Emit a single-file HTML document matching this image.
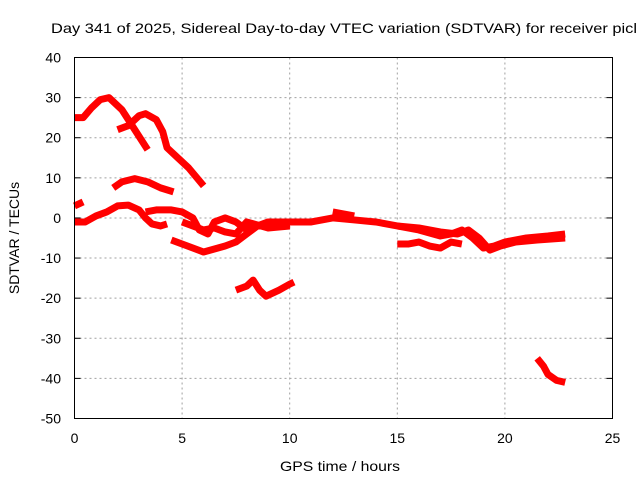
<!DOCTYPE html>
<html><head><meta charset="utf-8"><style>
html,body{margin:0;padding:0;background:#fff;width:640px;height:480px;overflow:hidden}
text{font-family:"Liberation Sans",sans-serif;font-size:14px;fill:#000}
</style></head><body>
<svg id="chart" width="640" height="480" xmlns="http://www.w3.org/2000/svg">
<text x="51" y="33" textLength="586" lengthAdjust="spacingAndGlyphs">Day 341 of 2025, Sidereal Day-to-day VTEC variation (SDTVAR) for receiver picl</text>
<g id="grid"></g>
<g id="ticks"></g>
<g id="series"></g>
<rect x="74.5" y="57.5" width="538" height="361" fill="none" stroke="#000" stroke-width="1"/>
<text x="280" y="471" textLength="120" lengthAdjust="spacingAndGlyphs">GPS time / hours</text>
<text transform="translate(19,238) rotate(-90)" text-anchor="middle">SDTVAR / TECUs</text>
</svg>
<script>
const xTicks=[0,5,10,15,20,25];
const yTicks=[40,30,20,10,0,-10,-20,-30,-40,-50];
const trace1=[[0,25],[0.4,25],[0.8,27.5],[1.2,29.5],[1.6,30],[2.2,27],[2.8,22],[3.4,17]];
const trace2=[[2,22],[2.5,23],[3,25.5],[3.3,26],[3.8,24.5],[4.1,21.5],[4.3,17.5],[4.8,15],[5.3,12.5],[6,8]];
const trace3=[[1.8,7.5],[2.2,9],[2.8,9.8],[3.4,9],[4,7.5],[4.6,6.5]];
const trace4=[[0,3],[0.4,4]];
const trace5=[[0,-1],[0.5,-1],[1,0.5],[1.5,1.5],[2,3],[2.5,3.2],[3,2],[3.3,0],[3.6,-1.5],[4,-2],[4.3,-1.5]];
const trace6=[[3.3,1.5],[3.8,2],[4.5,2],[5,1.5],[5.5,0],[5.8,-3],[6.2,-4],[6.5,-1],[7,0],[7.5,-1],[8,-3],[8.5,-2],[9,-1],[10,-1],[11,-1],[12,0],[13,-0.5],[14,-1],[15,-2],[16,-3],[17,-4.5],[17.5,-4],[18,-3],[18.5,-5],[19,-7.5],[19.5,-7],[20,-6],[21,-5],[22,-4.5],[22.8,-4]];
const trace7=[[15,-2],[16,-2.5],[17,-3.5],[17.8,-4],[18.3,-3],[18.8,-5],[19.3,-8],[19.8,-7],[20.5,-6],[21.5,-5.5],[22.8,-5]];
const trace8=[[4.5,-5.5],[5,-6.5],[5.5,-7.5],[6,-8.5],[7,-7],[7.5,-6],[8,-4],[8.5,-2],[9.5,-2],[10,-1.5]];
const trace9=[[5,-1],[5.5,-2],[6,-3],[6.5,-2.5],[7,-3.5],[7.5,-4],[8,-1],[9,-2.5],[10,-2]];
const trace10=[[15,-6.5],[15.5,-6.5],[16,-6],[16.5,-7],[17,-7.5],[17.5,-6],[18,-6.5]];
const trace11=[[12,1.5],[12.5,1],[13,0.5]];
const trace12=[[7.5,-18],[8,-17],[8.3,-15.5],[8.6,-18],[8.9,-19.5],[9.5,-18],[10,-16.5],[10.2,-16]];
const trace13=[[21.5,-35],[21.8,-37],[22,-39],[22.4,-40.5],[22.8,-41]];
const traces=[trace1,trace2,trace3,trace4,trace5,trace6,trace7,trace8,trace9,trace10,trace11,trace12,trace13];

const X0=74.5,X1=612.5,Y0=418.5,Y1=57.5;
const xs=h=>X0+(h-0)/(25-0)*(X1-X0);
const ys=v=>Y0-(v+50)/90*(Y0-Y1);
const NS="http://www.w3.org/2000/svg";
const grid=document.getElementById('grid'),ticks=document.getElementById('ticks'),series=document.getElementById('series');
function mk(t,a,p){const e=document.createElementNS(NS,t);for(const k in a)e.setAttribute(k,a[k]);p.appendChild(e);return e;}
xTicks.forEach(t=>{
  const x=xs(t);
  if(t>0&&t<25){const g=mk('line',{x1:x,x2:x,y1:Y1,y2:Y0,stroke:'#a0a0a0','stroke-dasharray':'2,3'},grid);
  
  }
  const l=mk('text',{x:x,y:443,'text-anchor':'middle'},ticks);l.textContent=t;
  
  
});
yTicks.forEach(t=>{
  const y=ys(t);
  if(t>-50&&t<40){const g=mk('line',{x1:X0,x2:X1,y1:y,y2:y,stroke:'#a0a0a0','stroke-dasharray':'2,3'},grid);
  
  }
  mk('line',{x1:X0,x2:X0+6,y1:y,y2:y,stroke:'#000'},ticks);
  mk('line',{x1:X1,x2:X1-6,y1:y,y2:y,stroke:'#000'},ticks);
  const l=mk('text',{x:61,y:y+5,'text-anchor':'end'},ticks);l.textContent=t;
  
  
});
traces.forEach((tr,i)=>{
  const pl=mk('polyline',{points:tr.map(p=>xs(p[0])+','+ys(p[1])).join(' '),fill:'none',stroke:'#ff0000','stroke-width':7,'stroke-linejoin':'round','stroke-linecap':'butt'},series);
  
  
});
</script>
</body></html>
